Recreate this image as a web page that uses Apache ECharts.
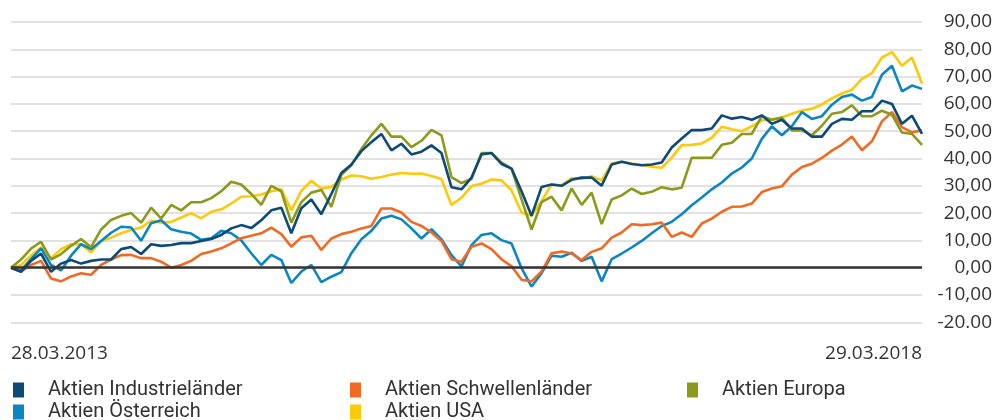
<!DOCTYPE html>
<html>
<head>
<meta charset="utf-8">
<script src="https://cdn.jsdelivr.net/npm/echarts@6/dist/echarts.min.js"></script>
<style>
  html, body { margin: 0; padding: 0; background: #ffffff; }
  #chart { width: 995px; height: 420px; }
</style>
</head>
<body>
<div id="chart"></div>
<script>
// ---- Data (approx. every ~20 days) ----
const startDate = '28.03.2013';
const endDate = '29.03.2018';
const pointCount = 92;

const yTickLabels = {
  '-20': '-20.00', '-10': '-10,00', '0': '0,00', '10': '10,00', '20': '20,00',
  '30': '30,00', '40': '40,00', '50': '50,00', '60': '60,00', '70': '70,00',
  '80': '80,00', '90': '90,00'
};

const seriesNames = ['Aktien Industrieländer', 'Aktien Schwellenländer', 'Aktien Europa', 'Aktien Österreich', 'Aktien USA'];

const industrie = [0,-1.5,2.5,5.2,-1.5,1.5,2.8,1.5,2.5,3, 3,6.8,7.6,5,8.6,8,8.3,9,9,9.8,
  10.5,12,14.4,15.6,14.5,17.4,21,22,12.6,21.8, 25,19.6,27,34.7,37.8,42.7,46,49,43,45.4,
  41.5,42.5,44.8,42,29.5,28.7,33,41.5,42,38, 36.3,28,19,29.6,30.5,30,32.2,33,33,30,
  37.8,38.8,38,37.5,37.8,38.5,44,47.3,50.4,50.4, 51,55.8,54.6,55.2,54.2,55.8,52.7,54.2,51,51,
  48,48,52.7,54.5,54.2,57.3,57.3,61.2,60,52.7, 55.7,49];

const schwellen = [0,-1.4,1,2.5,-4,-5,-3.2,-2,-2.6,1, 3,4.6,4.7,3.5,3.5,2.2,0,1,2.5,5,
  5.9,7.1,8.9,10.8,11.7,12.6,14.7,12.3,7.7,11.1, 11.7,6.5,10.7,12.3,13.2,14.4,15.3,21.7,21.7,20.2,
  16.8,15.3,12.9,9.8,3.1,2.2,7.7,8.9,6.8,3.1, 0.5,-4.4,-5,-1.4,5.3,5.9,5.2,2.8,5.8,7.1,
  11,12.9,15.9,15.6,15.9,16.5,11.3,12.9,11.3,16.2, 18,20.5,22.3,22.4,23.5,27.7,29,29.8,34.1,36.9,
  38.1,40.2,42.9,45.1,48.1,43,46.3,53.6,57,51.5, 49.6,50.3];

const europa = [0,3,7,9.5,3,5,8,10.5,7.5,14, 17.5,19,20,16.5,22,18,23,21,24,24,
  25.5,28,31.5,30.5,27,23,30,28,16.5,24, 27.5,28.5,22.3,34,37.5,43.5,48.5,52.7,48,48,
  44.2,46.5,50.5,48.5,33.2,31,32.5,42,42,38.5, 36.3,25,14,24,26,21,29,23,27.5,16,
  25,26.5,29,27,27.8,29.5,28.7,29.3,40.3,40.3, 40.3,45,45.8,49,49,55.5,54.2,55,50.3,50.3,
  48.5,52,56.4,57,59.5,55.5,55.5,57.5,56,49.5, 49,45];

const oesterreich = [0,-1,3.1,7.1,1,-1,4.4,8.6,6.8,9.8, 12.8,15,14.7,9.9,16.3,17.4,14.1,13.2,12.5,10.2,
  10.8,13.5,12.6,10,5.3,1,4.7,2.8,-5.6,-1.4, 1,-5.3,-3.3,-1.6,5.3,10.4,13.5,18,19,17.7,
  14.4,10.7,14.1,10.4,4.6,0.5,8.3,12,12.6,10.1, 8.9,-0.2,-6.9,-2,4.4,4,5.5,2.5,4,-5,
  3.1,5.2,7.4,9.8,12.6,15.3,16.8,19.6,22.9,25.7, 28.7,31.2,34.5,36.7,40,47.2,51.8,48.5,51.8,57,
  54.5,55.5,59.7,62.5,63.4,61.2,62.5,70.7,74,64.6, 66.7,65.5];

const usa = [0,1,4.5,7.4,3.5,6.8,8.6,8.6,5.6,9.8, 11,12.6,13.8,14.7,17.2,16.5,16.8,18.4,20,18.1,
  20.5,21.4,23.5,26,26.2,26.8,28,28.7,21,28.1, 31.8,29,29.6,32.3,33.8,33.5,32.6,33.2,34.1,34.7,
  34.4,34.5,33.6,32.5,23,25.6,29.9,30.8,32.3,32, 28.3,20.2,19,24.4,30.5,30.2,32.8,32.5,33.5,32,
  38.2,38.8,38.2,37.6,37,36.6,40.3,44.9,45,45.5, 47.6,51.6,50.7,50,51.8,54,54.2,55,56.4,57.6,
  58.2,59.8,62,63.8,65.2,69.2,71.3,77,79,74, 77,67.5];

const colors = {
  industrie: '#0d4a77',
  schwellen: '#f06a24',
  europa: '#8c9a1b',
  oesterreich: '#0b86c2',
  usa: '#fcc90b'
};

// ---- Category dates between start and end ----
function parseDE(s) { const p = s.split('.'); return Date.UTC(+p[2], +p[1] - 1, +p[0]); }
function fmtDE(t) {
  const d = new Date(t);
  const dd = String(d.getUTCDate()).padStart(2, '0');
  const mm = String(d.getUTCMonth() + 1).padStart(2, '0');
  return dd + '.' + mm + '.' + d.getUTCFullYear();
}
const t0 = parseDE(startDate), t1 = parseDE(endDate);
const dayMs = 86400000;
const totalDays = Math.round((t1 - t0) / dayMs);
const categories = [];
for (let i = 0; i < pointCount; i++) {
  categories.push(fmtDE(t0 + Math.round(i * totalDays / (pointCount - 1)) * dayMs));
}
const lastIdx = pointCount - 1;

const chart = echarts.init(document.getElementById('chart'), null, { renderer: 'canvas' });

function lineSeries(name, data, color, extra) {
  return Object.assign({
    name: name,
    type: 'line',
    data: data,
    symbol: 'none',
    showSymbol: false,
    lineStyle: { color: color, width: 2.6 },
    itemStyle: { color: color },
    emphasis: { disabled: true }
  }, extra || {});
}

const legendCommon = {
  orient: 'vertical',
  top: 380,
  height: 80,
  width: 300,
  icon: 'rect',
  itemWidth: 11,
  itemHeight: 15,
  itemGap: 2,
  padding: 0,
  selectedMode: false,
  textStyle: { fontFamily: 'Roboto', fontSize: 20, color: '#333333', padding: [0, 0, 0, 19] }
};

chart.setOption({
  animation: false,
  backgroundColor: '#ffffff',
  grid: { left: 11, right: 73, top: 22, bottom: 97.7, containLabel: false },
  legend: [
    Object.assign({}, legendCommon, { left: 13, data: [seriesNames[0], seriesNames[3]] }),
    Object.assign({}, legendCommon, { left: 350, data: [seriesNames[1], seriesNames[4]] }),
    Object.assign({}, legendCommon, { left: 687, data: [seriesNames[2]] })
  ],
  xAxis: {
    type: 'category',
    data: categories,
    boundaryGap: false,
    axisLine: { show: false },
    axisTick: { show: false },
    splitLine: { show: false },
    axisLabel: {
      interval: function (index) { return index === 0 || index === lastIdx; },
      showMinLabel: true,
      showMaxLabel: true,
      alignMinLabel: 'left',
      alignMaxLabel: 'right',
      margin: 22,
      fontFamily: 'Open Sans',
      fontSize: 19,
      color: '#333333'
    }
  },
  yAxis: {
    type: 'value',
    position: 'right',
    min: -20,
    max: 90,
    interval: 10,
    axisLine: { show: false },
    axisTick: { show: false },
    splitLine: { show: true, lineStyle: { color: '#d9d9d9', width: 1.5 } },
    axisLabel: {
      align: 'right',
      margin: 70,
      fontFamily: 'Open Sans',
      fontSize: 19,
      color: '#333333',
      formatter: function (v) { return yTickLabels[String(v)] || String(v); }
    }
  },
  series: [
    lineSeries(seriesNames[4], usa, colors.usa, {
      markLine: {
        silent: true,
        symbol: 'none',
        label: { show: false },
        lineStyle: { color: '#333333', width: 2.6, type: 'solid' },
        data: [{ yAxis: 0 }]
      }
    }),
    lineSeries(seriesNames[3], oesterreich, colors.oesterreich),
    lineSeries(seriesNames[1], schwellen, colors.schwellen),
    lineSeries(seriesNames[2], europa, colors.europa),
    lineSeries(seriesNames[0], industrie, colors.industrie)
  ]
});
</script>
</body>
</html>
